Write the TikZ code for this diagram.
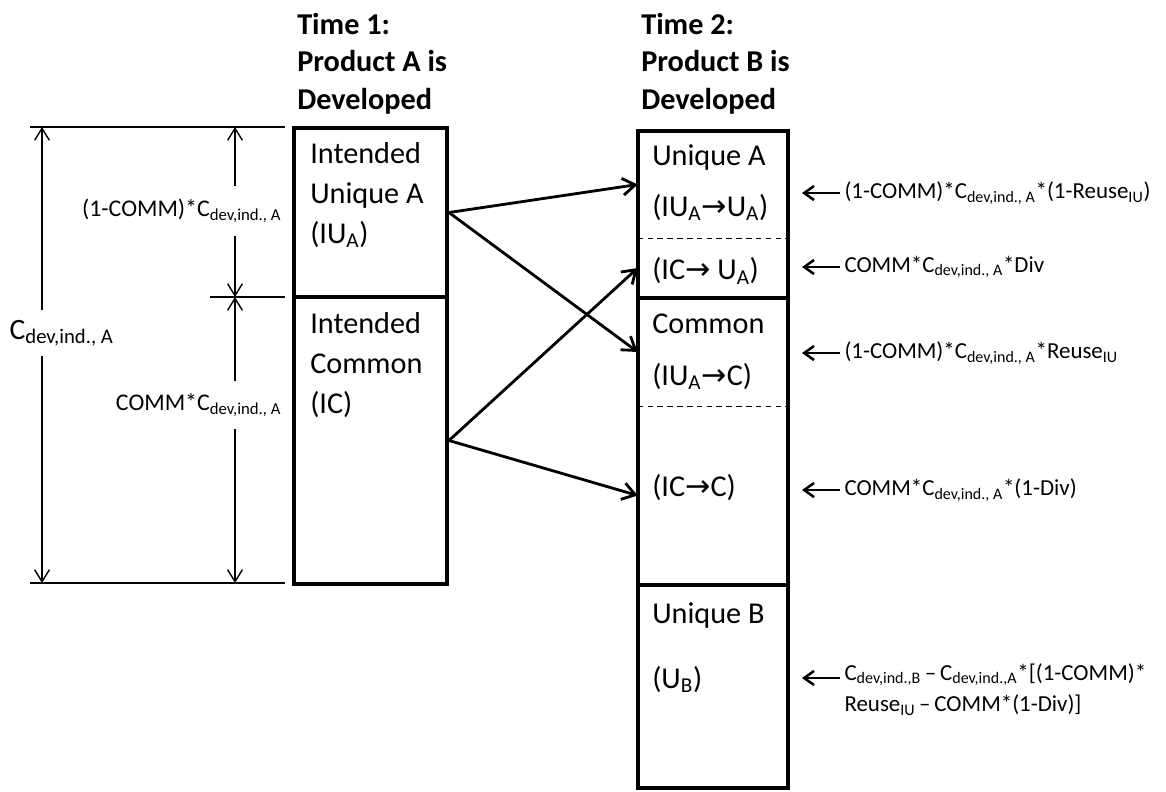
\documentclass[tikz,border=0pt]{standalone}
\usepackage{fontspec}
\setmainfont{Carlito}
\newfontfamily\arrowfont{DejaVu Sans}
\usetikzlibrary{arrows.meta, positioning, fit}

\newcommand{\low}[1]{\textsubscript{#1}}
\newcommand{\goesto}{{\arrowfont\char"2192}}

\begin{document}
\begin{tikzpicture}[x=0.025cm, y=-0.025cm,
    cell/.style={draw, line width=2.8pt, inner sep=0pt},
    zone/.style={inner sep=0pt},
    txt/.style={anchor=north west, align=left, inner sep=0pt,
                font=\fontsize{21.5}{28.5}\selectfont},
    timehead/.style={anchor=north west, align=left, inner sep=0pt,
                font=\fontsize{21.5}{26.5}\selectfont\bfseries},
    lbl/.style={anchor=west, align=left, inner sep=3pt,
                font=\fontsize{16.3}{22.5}\selectfont},
    dimlbl/.style={anchor=east, inner xsep=1pt, inner ysep=9pt,
                font=\fontsize{17}{20}\selectfont},
    arr/.style={-{Straight Barb[length=9pt, width=12pt]}, line width=2pt},
    ptr/.style={-{Straight Barb[length=7pt, width=10pt]}, line width=1.8pt},
    dimarr/.style={-{Straight Barb[length=8.5pt, width=10.5pt]}, line width=1pt},
    ext/.style={line width=1pt},
    divider/.style={line width=1pt, dash pattern=on 4pt off 3pt}
  ]
    \useasboundingbox (0,0) rectangle (1166,791);

    % headings
    \node[timehead] (time1) at (297,13) {Time 1:\\Product A is\\Developed};
    \node[timehead] (time2) at (641,13) {Time 2:\\Product B is\\Developed};

    % time 1 column
    \node[cell, fit={(294,128) (447,297)}] (iua) {};
    \node[cell, fit={(294,297) (447,584)}] (ic) {};
    \node[txt] (iuatext) at (310,142) {Intended\\Unique A\\(IU\low{A})};
    \node[txt] (ictext)  at (310,312) {Intended\\Common\\(IC)};

    % time 2 column
    \node[cell, fit={(638,131) (788,298)}] (ua) {};
    \node[cell, fit={(638,298) (788,585)}] (cm) {};
    \node[cell, fit={(638,585) (788,788)}] (ub) {};
    \node[zone, fit={(638,131) (788,238)}] (uaA) {};
    \node[zone, fit={(638,238) (788,298)}] (uaC) {};
    \node[zone, fit={(638,298) (788,406)}] (cmA) {};
    \node[zone, fit={(638,406) (788,585)}] (cmC) {};
    \draw[divider] (uaA.south west) -- (uaA.south east);
    \draw[divider] (cmA.south west) -- (cmA.south east);

    \node[txt] (uatext) at (652,144) {Unique A\\[8pt](IU\low{A}\goesto U\low{A})};
    \node[txt, anchor=west] (uactext) at (652,271) {(IC\goesto{} U\low{A})};
    \node[txt] (cmtext) at (652,314) {Common\\[8pt](IU\low{A}\goesto C)};
    \node[txt, anchor=west] (cmctext) at (652,488) {(IC\goesto C)};
    \node[txt] (ubtext) at (652,602) {Unique B\\[18pt](U\low{B})};

    % flows
    \draw[arr] (iua.east) -- (uaA.west);
    \draw[arr] (iua.east) -- (cmA.west);
    \draw[arr] (ic.east) -- (uaC.west);
    \draw[arr] (ic.east) -- (cmC.west);

    % dimensions
    \coordinate (bigtop) at (42,127);
    \coordinate (bigbot) at (42,583);
    \coordinate (midtop) at (235,127);
    \coordinate (midmid) at (235,297);
    \coordinate (midbot) at (235,583);
    \draw[ext] (30,127) -- (285,127);
    \draw[ext] (210,297) -- (285,297);
    \draw[ext] (30,583) -- (285,583);

    \node[dimlbl, anchor=west, inner ysep=7pt, font=\fontsize{21}{24}\selectfont]
      (cdev) at (8,333) {C\low{dev,ind., A}};
    \node[dimlbl] (ciua) at (283,211) {(1-COMM)*C\low{dev,ind., A}};
    \node[dimlbl] (cic)  at (283,405) {COMM*C\low{dev,ind., A}};
    \draw[dimarr] (cdev.north -| bigtop) -- (bigtop);
    \draw[dimarr] (cdev.south -| bigbot) -- (bigbot);
    \draw[dimarr] (ciua.north -| midtop) -- (midtop);
    \draw[dimarr] (ciua.south -| midmid) -- (midmid);
    \draw[dimarr] (cic.north -| midmid) -- (midmid);
    \draw[dimarr] (cic.south -| midbot) -- (midbot);

    % cost labels
    \coordinate (t1) at (802,193);
    \coordinate (t2) at (802,267);
    \coordinate (t3) at (802,353);
    \coordinate (t4) at (802,490);
    \coordinate (t5) at (802,678);
    \node[lbl] (lab1) at (840,193) {(1-COMM)*C\low{dev,ind., A}*(1-Reuse\low{IU})};
    \node[lbl] (lab2) at (840,267) {COMM*C\low{dev,ind., A}*Div};
    \node[lbl] (lab3) at (840,353) {(1-COMM)*C\low{dev,ind., A}*Reuse\low{IU}};
    \node[lbl] (lab4) at (840,490) {COMM*C\low{dev,ind., A}*(1-Div)};
    \node[lbl, anchor=north west] (lab5) at (840,659)
      {C\low{dev,ind.,B}\,--\,C\low{dev,ind.,A}*[(1-COMM)*\\Reuse\low{IU}\,--\,COMM*(1-Div)]};
    \draw[ptr] (lab1.west) -- (t1);
    \draw[ptr] (lab2.west) -- (t2);
    \draw[ptr] (lab3.west) -- (t3);
    \draw[ptr] (lab4.west) -- (t4);
    \draw[ptr] (lab5.west |- t5) -- (t5);
\end{tikzpicture}
\end{document}
